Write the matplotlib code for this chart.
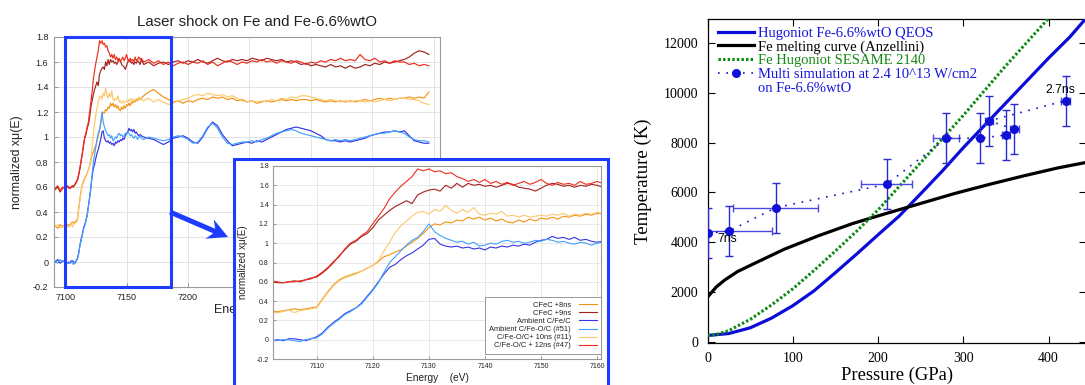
import numpy as np
import matplotlib
matplotlib.use("Agg")
import matplotlib.pyplot as plt
from matplotlib.patches import Rectangle, FancyArrow
from matplotlib.lines import Line2D
from matplotlib.ticker import FuncFormatter

W, H = 1085, 385
SANS = ['Liberation Sans', 'DejaVu Sans']
SERIF = ['Liberation Serif', 'DejaVu Serif']

# ---------------- XANES spectra (normalized x mu(E)) ----------------
# pre-edge: 7092..7100 eV (2 eV step); edge: 7102..7162 eV (1 eV); tail: 7164..7396 eV (4 eV)
orange_pre = [0.29, 0.27, 0.30, 0.28, 0.30]
orange_edge = [0.30, 0.29, 0.30, 0.31, 0.32, 0.31, 0.32, 0.33, 0.34, 0.42,
               0.50, 0.57, 0.62, 0.65, 0.67, 0.69, 0.71, 0.74, 0.77, 0.81,
               0.86, 0.88, 0.91, 0.93, 0.97, 1.01, 1.05, 1.10, 1.16, 1.20,
               1.19, 1.22, 1.21, 1.24, 1.23, 1.27, 1.25, 1.27, 1.24, 1.26,
               1.23, 1.25, 1.22, 1.21, 1.24, 1.22, 1.25, 1.23, 1.26, 1.25,
               1.27, 1.25, 1.28, 1.27, 1.29, 1.28, 1.30, 1.29, 1.31, 1.30,
               1.31]
orange_tail = [1.33, 1.36, 1.38, 1.35, 1.32, 1.30, 1.28, 1.29, 1.27, 1.29,
               1.28, 1.30, 1.31, 1.30, 1.32, 1.31, 1.32, 1.30, 1.31, 1.29,
               1.30, 1.28, 1.29, 1.27, 1.28, 1.29, 1.28, 1.29, 1.30, 1.29,
               1.30, 1.29, 1.30, 1.30, 1.29, 1.30, 1.29, 1.28, 1.29, 1.28,
               1.29, 1.28, 1.29, 1.28, 1.29, 1.30, 1.29, 1.30, 1.31, 1.30,
               1.31, 1.30, 1.31, 1.31, 1.32, 1.31, 1.32, 1.31, 1.36]

darkred_pre = [0.58, 0.60, 0.56, 0.59, 0.60]
darkred_edge = [0.60, 0.59, 0.59, 0.60, 0.61, 0.60, 0.62, 0.64, 0.65, 0.69,
                0.74, 0.80, 0.87, 0.93, 0.99, 1.02, 1.07, 1.10, 1.16, 1.24,
                1.29, 1.34, 1.38, 1.41, 1.44, 1.41, 1.50, 1.53, 1.55, 1.56,
                1.54, 1.60, 1.57, 1.62, 1.58, 1.62, 1.60, 1.61, 1.59, 1.60,
                1.58, 1.60, 1.62, 1.61, 1.58, 1.57, 1.56, 1.54, 1.57, 1.60,
                1.62, 1.61, 1.59, 1.60, 1.58, 1.60, 1.59, 1.61, 1.60, 1.58,
                1.62]
darkred_tail = [1.58, 1.60, 1.57, 1.59, 1.60, 1.58, 1.60, 1.61, 1.59, 1.61,
                1.60, 1.62, 1.60, 1.59, 1.61, 1.63, 1.61, 1.60, 1.62, 1.61,
                1.62, 1.61, 1.63, 1.62, 1.61, 1.63, 1.62, 1.61, 1.62, 1.60,
                1.61, 1.60, 1.58, 1.59, 1.57, 1.58, 1.57, 1.56, 1.58, 1.56,
                1.57, 1.55, 1.57, 1.55, 1.56, 1.58, 1.57, 1.59, 1.58, 1.60,
                1.59, 1.60, 1.61, 1.62, 1.64, 1.67, 1.69, 1.68, 1.66]

blue_pre = [0.00, 0.02, -0.01, 0.01, 0.00]
blue_edge = [-0.01, 0.00, -0.01, 0.01, 0.01, 0.00, -0.01, 0.01, 0.03, 0.07,
             0.13, 0.18, 0.22, 0.27, 0.30, 0.33, 0.38, 0.45, 0.52, 0.60,
             0.68, 0.75, 0.78, 0.83, 0.87, 0.90, 0.94, 0.98, 1.04, 1.05,
             0.99, 0.97, 0.96, 0.97, 0.95, 0.96, 0.94, 0.95, 0.93, 0.96,
             0.95, 0.97, 0.96, 0.98, 0.97, 0.99, 0.98, 1.01, 1.03, 1.04,
             1.07, 1.05, 1.06, 1.04, 1.06, 1.03, 1.04, 1.02, 1.01, 1.02,
             1.01]
blue_tail = [1.00, 0.99, 0.98, 0.96, 0.94, 0.96, 0.99, 1.00, 1.01, 0.99,
             0.96, 0.95, 1.00, 1.07, 1.12, 1.09, 1.02, 0.97, 0.93, 0.94,
             0.95, 0.96, 0.95, 0.97, 0.96, 0.98, 1.00, 1.02, 1.04, 1.06,
             1.07, 1.08, 1.07, 1.06, 1.05, 1.03, 1.01, 0.98, 0.97, 0.97,
             0.96, 0.97, 0.96, 0.97, 0.98, 0.99, 1.01, 1.02, 1.03, 1.04,
             1.04, 1.05, 1.04, 1.05, 1.01, 0.97, 0.96, 0.95, 0.95]

lightblue_pre = [0.01, -0.01, 0.02, 0.00, 0.01]
lightblue_edge = [-0.01, -0.01, 0.00, 0.00, -0.01, -0.02, 0.00, 0.01, 0.02, 0.06,
                  0.12, 0.17, 0.21, 0.26, 0.29, 0.33, 0.37, 0.44, 0.51, 0.59,
                  0.70, 0.80, 0.86, 0.92, 0.98, 1.03, 1.06, 1.12, 1.20, 1.12,
                  1.08, 1.05, 1.03, 1.01, 1.02, 0.99, 1.01, 0.97, 0.98, 1.00,
                  0.99, 1.02, 1.03, 1.01, 1.02, 1.00, 1.01, 1.03, 1.02, 1.04,
                  1.03, 1.01, 1.02, 1.00, 0.99, 1.01, 1.00, 0.98, 1.00, 1.01,
                  0.99]
lightblue_tail = [0.98, 1.00, 0.99, 0.98, 0.97, 0.98, 1.00, 1.01, 1.00, 0.98,
                  0.95, 0.96, 1.01, 1.08, 1.11, 1.07, 1.00, 0.95, 0.94, 0.95,
                  0.96, 0.96, 0.97, 0.96, 0.98, 0.99, 1.01, 1.03, 1.04, 1.05,
                  1.06, 1.05, 1.03, 1.02, 1.01, 1.00, 0.99, 0.98, 0.97, 0.98,
                  0.97, 0.98, 0.97, 0.98, 0.99, 1.00, 1.01, 1.02, 1.03, 1.03,
                  1.04, 1.05, 1.04, 1.03, 1.00, 0.98, 0.97, 0.97, 0.96]

lightorange_pre = [0.28, 0.30, 0.27, 0.29, 0.28]
lightorange_edge = [0.28, 0.28, 0.29, 0.31, 0.28, 0.30, 0.31, 0.32, 0.33, 0.41,
                    0.49, 0.56, 0.61, 0.64, 0.66, 0.68, 0.71, 0.74, 0.77, 0.82,
                    0.92, 1.01, 1.11, 1.18, 1.23, 1.28, 1.32, 1.33, 1.30, 1.35,
                    1.33, 1.39, 1.34, 1.31, 1.35, 1.32, 1.37, 1.30, 1.29, 1.31,
                    1.30, 1.33, 1.28, 1.29, 1.27, 1.29, 1.27, 1.28, 1.29, 1.28,
                    1.30, 1.29, 1.31, 1.28, 1.30, 1.29, 1.31, 1.30, 1.32, 1.31,
                    1.30]
lightorange_tail = [1.29, 1.31, 1.28, 1.30, 1.28, 1.26, 1.27, 1.29, 1.30, 1.31,
                    1.33, 1.34, 1.33, 1.35, 1.34, 1.33, 1.34, 1.32, 1.33, 1.31,
                    1.29, 1.28, 1.29, 1.28, 1.29, 1.28, 1.30, 1.29, 1.31, 1.30,
                    1.32, 1.31, 1.33, 1.33, 1.32, 1.31, 1.30, 1.29, 1.30, 1.29,
                    1.28, 1.29, 1.28, 1.29, 1.29, 1.28, 1.29, 1.28, 1.29, 1.30,
                    1.29, 1.30, 1.31, 1.31, 1.30, 1.30, 1.29, 1.27, 1.26]

red_pre = [0.59, 0.61, 0.57, 0.60, 0.59]
red_edge = [0.61, 0.60, 0.59, 0.60, 0.60, 0.61, 0.62, 0.63, 0.66, 0.70,
            0.75, 0.81, 0.86, 0.94, 1.00, 1.03, 1.08, 1.12, 1.20, 1.28,
            1.36, 1.46, 1.53, 1.59, 1.64, 1.69, 1.77, 1.75, 1.77, 1.74,
            1.75, 1.72, 1.73, 1.69, 1.67, 1.64, 1.66, 1.63, 1.66, 1.62,
            1.64, 1.61, 1.63, 1.60, 1.62, 1.64, 1.61, 1.63, 1.66, 1.62,
            1.60, 1.63, 1.61, 1.62, 1.60, 1.64, 1.61, 1.62, 1.64, 1.62,
            1.63]
red_tail = [1.60, 1.62, 1.59, 1.61, 1.58, 1.60, 1.57, 1.59, 1.60, 1.58,
            1.60, 1.59, 1.61, 1.58, 1.60, 1.57, 1.59, 1.61, 1.60, 1.58,
            1.60, 1.59, 1.61, 1.60, 1.62, 1.60, 1.61, 1.59, 1.61, 1.60,
            1.59, 1.61, 1.60, 1.58, 1.60, 1.59, 1.61, 1.60, 1.62, 1.61,
            1.63, 1.61, 1.62, 1.61, 1.66, 1.62, 1.61, 1.63, 1.60, 1.61,
            1.59, 1.61, 1.60, 1.60, 1.58, 1.59, 1.57, 1.58, 1.57]

series_labels = ["CFeC +8ns", "CFeC +9ns", "Ambient C/Fe/C",
                 "Ambient C/Fe-O/C (#51)", "C/Fe-O/C+ 10ns (#11)",
                 "C/Fe-O/C + 12ns (#47)"]
series_colors = ["#f39314", "#a3221e", "#3434e4", "#42a2ff", "#fcc86e", "#ee2c1c"]
series_data = [(orange_pre, orange_edge, orange_tail),
               (darkred_pre, darkred_edge, darkred_tail),
               (blue_pre, blue_edge, blue_tail),
               (lightblue_pre, lightblue_edge, lightblue_tail),
               (lightorange_pre, lightorange_edge, lightorange_tail),
               (red_pre, red_edge, red_tail)]

main_xticks = [7100, 7150, 7200, 7250, 7300, 7350, 7400]
main_xticklabels = ["7100", "7150", "7200", "", "", "", ""]  # the rest sit under the inset
inset_xticks = [7110, 7120, 7130, 7140, 7150, 7160]
xas_yticks = [-0.2, 0, 0.2, 0.4, 0.6, 0.8, 1, 1.2, 1.4, 1.6, 1.8]

# ---------------- Temperature-pressure panel ----------------
qeos_P = [0, 25, 50, 75, 100, 125, 150, 175, 200, 225, 250, 275, 300, 325, 350, 375, 400, 425, 443]
qeos_T = [250, 330, 560, 950, 1450, 2050, 2780, 3530, 4300, 5060, 5950, 6850, 7800, 8700,
          9600, 10500, 11400, 12250, 12960]
melt_P = [0, 10, 20, 35, 55, 90, 130, 170, 210, 250, 290, 330, 370, 410, 443]
melt_T = [1800, 2200, 2480, 2820, 3150, 3720, 4260, 4750, 5160, 5560, 5960, 6320, 6660, 6980, 7200]
sesame_P = [0, 10, 25, 50, 75, 100, 125, 150, 175, 200, 225, 250, 275, 300, 325, 350, 375, 400]
sesame_T = [250, 290, 450, 900, 1480, 2130, 2870, 3650, 4450, 5300, 6250, 7200, 8150, 9100,
            10100, 11100, 12050, 13000]
sim_P = [0, 25, 80, 210, 280, 320, 350, 360, 330, 420]
sim_T = [4360, 4450, 5390, 6330, 8180, 8180, 8310, 8540, 8880, 9690]
sim_Perr = [0, 50, 50, 30, 15, 0, 5, 5, 5, 5]
sim_Terr = [1000, 1000, 1000, 1000, 1000, 1000, 1000, 1000, 1000, 1000]
tp_xticks = [0, 100, 200, 300, 400]
tp_yticks = [0, 2000, 4000, 6000, 8000, 10000, 12000]

BOX_BLUE = "#1e3cff"


def spectrum(pre, edge, tail):
    e = np.concatenate([7092 + 2 * np.arange(len(pre)),
                        7102 + np.arange(len(edge)),
                        7164 + 4 * np.arange(len(tail))])
    return e, np.concatenate([pre, edge, tail])


fmt_g = FuncFormatter(lambda v, p: f"{v:g}")

fig = plt.figure(figsize=(W / 100, H / 100), dpi=100)
fig.patch.set_facecolor("white")

# ---------- main XAS axes ----------
ax = fig.add_axes([54 / W, 1 - 287 / H, 386 / W, 250 / H])
ax.set_zorder(0)
for col, (pre, edge, tail) in zip(series_colors, series_data):
    e, v = spectrum(pre, edge, tail)
    ax.plot(e, v, color=col, lw=0.85)
ax.set_xlim(7091, 7405)
ax.set_ylim(-0.2, 1.8)
ax.set_xticks(main_xticks, main_xticklabels)
ax.set_yticks(xas_yticks)
ax.yaxis.set_major_formatter(fmt_g)
ax.grid(True, color="#e3e3e3", lw=0.7)
ax.set_axisbelow(True)
for s in ax.spines.values():
    s.set_color("#9a9a9a")
    s.set_linewidth(0.8)
ax.tick_params(direction="in", length=3, width=0.6, colors="#888888",
               labelcolor="#222222", labelsize=6.5, pad=4, labelfontfamily=SANS)
ax.set_title("Laser shock on Fe and Fe-6.6%wtO", fontsize=10.8, family=SANS,
             x=0.527, y=1.045, pad=0, color="#222222")
ax.set_xlabel("Energy (eV)", fontsize=9, family=SANS, color="#222222")
ax.xaxis.set_label_coords(0.5, -0.068)
ax.set_ylabel("normalized xμ(E)", fontsize=8.8, family=SANS, color="#222222")
ax.yaxis.set_label_coords(-0.080, 0.5)
ax.add_patch(Rectangle((7100, -0.2), 86, 2.0, fill=False, ec=BOX_BLUE, lw=2.2,
                       clip_on=False, zorder=5))

# inset frame and arrow (figure level, in inches)
fig.add_artist(Rectangle((2.34, -0.1), 3.74, (H - 159) / 100 + 0.1,
                         transform=fig.dpi_scale_trans, fc="white", ec=BOX_BLUE,
                         lw=2.2, zorder=1))
fig.add_artist(FancyArrow(1.70, (H - 212) / 100, 0.58, -0.25, width=0.05,
                          head_width=0.21, head_length=0.2, length_includes_head=True,
                          overhang=0.25, color=BOX_BLUE, lw=0,
                          transform=fig.dpi_scale_trans, zorder=1.5))

# ---------- inset axes ----------
axi = fig.add_axes([273 / W, 1 - 359 / H, 328 / W, 193 / H])
axi.set_zorder(2)
handles = []
for lab, col, (pre, edge, tail) in zip(series_labels, series_colors, series_data):
    e, v = spectrum(pre, edge, tail)
    h, = axi.plot(e, v, color=col, lw=0.8, label=lab)
    handles.append(h)
axi.set_xlim(7102.2, 7160.7)
axi.set_ylim(-0.2, 1.8)
axi.set_xticks(inset_xticks)
axi.set_yticks(xas_yticks)
axi.yaxis.set_major_formatter(fmt_g)
axi.grid(True, color="#e3e3e3", lw=0.6)
axi.set_axisbelow(True)
for s in axi.spines.values():
    s.set_color("#9a9a9a")
    s.set_linewidth(0.8)
axi.tick_params(direction="in", length=2.5, width=0.6, colors="#888888",
                labelcolor="#222222", labelsize=5, pad=3, labelfontfamily=SANS)
axi.set_xlabel("Energy    (eV)", fontsize=7.3, family=SANS, color="#222222")
axi.xaxis.set_label_coords(0.5, -0.0725)
axi.set_ylabel("normalized xμ(E)", fontsize=7, family=SANS, color="#222222")
axi.yaxis.set_label_coords(-0.0756, 0.504)
leg_i = axi.legend(handles=handles, loc="lower right", bbox_to_anchor=(1.0, 0.026),
                   prop={"family": SANS, "size": 5.4}, markerfirst=False,
                   handlelength=2.3, handletextpad=1.1, labelspacing=0.12,
                   borderpad=0.6, borderaxespad=0, fancybox=False,
                   edgecolor="#888888", framealpha=1)
leg_i.get_frame().set_linewidth(0.6)
for t in leg_i.get_texts():
    t.set_color("#222222")

# ---------- temperature / pressure axes ----------
axr = fig.add_axes([707.7 / W, 1 - 343.3 / H, (1086 - 707.7) / W, 324 / H])
axr.plot(qeos_P, qeos_T, color="#0c0cd8", lw=2.3, label="Hugoniot Fe-6.6%wtO QEOS", zorder=3)
axr.plot(melt_P, melt_T, color="black", lw=2.3, label="Fe melting curve (Anzellini)", zorder=3)
axr.plot(sesame_P, sesame_T, color="#0d8a12", lw=2.2, ls=(0, (0.8, 0.7)),
         label="Fe Hugoniot SESAME 2140", zorder=3)
axr.errorbar(sim_P, sim_T, yerr=sim_Terr, fmt="none", ecolor="#2a2ad4",
             elinewidth=1.0, capsize=3, capthick=1.0, zorder=4)
xmask = [i for i, v in enumerate(sim_Perr) if v > 0]
axr.errorbar([sim_P[i] for i in xmask], [sim_T[i] for i in xmask],
             xerr=[sim_Perr[i] for i in xmask], fmt="none", ecolor="#4a4ae0",
             elinewidth=1.0, capsize=3, capthick=1.0, zorder=4)
axr.plot(sim_P, sim_T, color="#1010d6", lw=1.2, ls=(0, (1, 4)), marker="o", ms=5.5,
         label="Multi simulation at 2.4 10^13 W/cm2", zorder=5)
axr.text(11, 4130, "7ns", fontsize=8.8, family=SANS, ha="left", va="center", zorder=6)
axr.text(396, 10120, "2.7ns", fontsize=8.8, family=SANS, ha="left", va="center", zorder=6)
axr.set_xlim(0, 444)
axr.set_ylim(-64, 12962)
axr.set_xticks(tp_xticks)
axr.set_yticks(tp_yticks)
for s in axr.spines.values():
    s.set_linewidth(0.9)
axr.tick_params(direction="in", length=5, width=0.8, top=True, right=True,
                labelsize=10, pad=7, labelfontfamily=SERIF)
axr.tick_params(axis="x", pad=6)
axr.set_xlabel("Pressure (GPa)", fontsize=13.4, family=SERIF)
axr.xaxis.set_label_coords(0.5, -0.073)
axr.set_ylabel("Temperature (K)", fontsize=13.5, family=SERIF)
axr.yaxis.set_label_coords(-0.147, 0.5)

hl, ll = axr.get_legend_handles_labels()
hl.append(Line2D([], [], ls="none"))
ll.append("on Fe-6.6%wtO")
leg_r = axr.legend(hl, ll, loc="upper left", bbox_to_anchor=(0.0265, 0.978),
                   prop={"family": SERIF, "size": 10.5}, frameon=False, numpoints=1,
                   handlelength=2.5, handletextpad=0.25, labelspacing=0.04,
                   borderpad=0, borderaxespad=0)
label_colors = ["#1515dd", "black", "#138a13", "#1515dd", "#1515dd"]
for t, c in zip(leg_r.get_texts(), label_colors):
    t.set_color(c)

fig.savefig("out.png", dpi=100, facecolor="white")
